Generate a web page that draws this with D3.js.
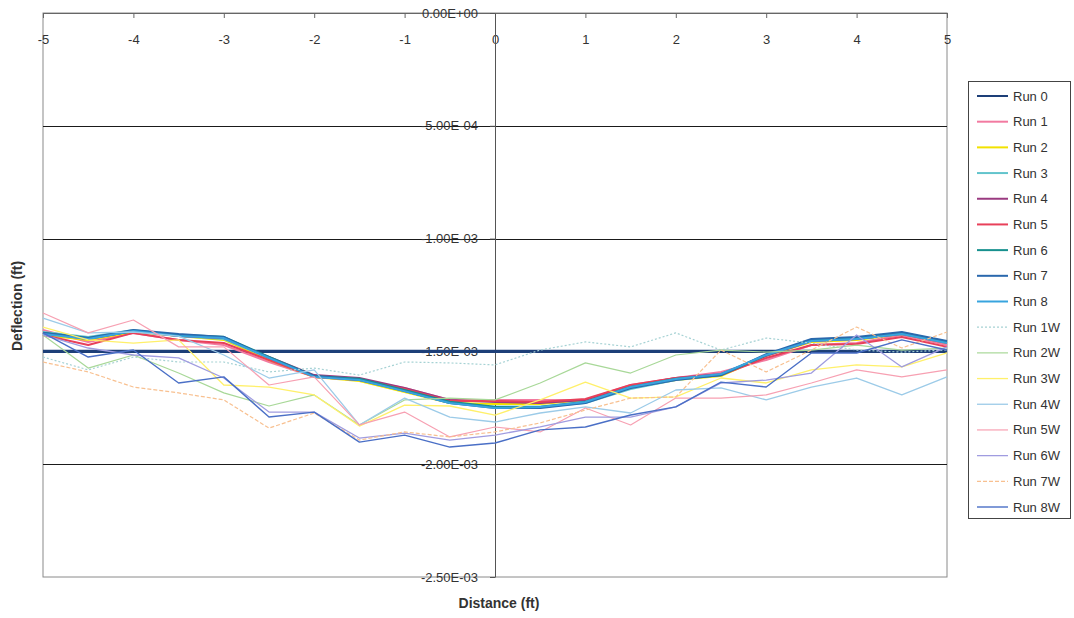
<!DOCTYPE html>
<html>
<head>
<meta charset="utf-8">
<script src="https://cdn.jsdelivr.net/npm/d3@7"></script>
<style>
  html, body { margin: 0; padding: 0; background: #ffffff; }
  svg { display: block; font-family: "Liberation Sans", Arial, sans-serif; }
</style>
</head>
<body>
<svg id="chart" width="1074" height="618"></svg>
<script>
// Distance stations along the beam (ft)
const distance = [-5, -4.5, -4, -3.5, -3, -2.5, -2, -1.5, -1, -0.5, 0, 0.5, 1, 1.5, 2, 2.5, 3, 3.5, 4, 4.5, 5];

// Deflection readings (ft) per run
const run0 = [-1.5e-3, -1.5e-3, -1.5e-3, -1.5e-3, -1.5e-3, -1.5e-3, -1.5e-3, -1.5e-3, -1.5e-3, -1.5e-3, -1.5e-3, -1.5e-3, -1.5e-3, -1.5e-3, -1.5e-3, -1.5e-3, -1.5e-3, -1.5e-3, -1.5e-3, -1.5e-3, -1.5e-3];
const run1 = [-1.405e-3, -1.458e-3, -1.418e-3, -1.449e-3, -1.472e-3, -1.547e-3, -1.613e-3, -1.627e-3, -1.662e-3, -1.715e-3, -1.715e-3, -1.715e-3, -1.715e-3, -1.649e-3, -1.618e-3, -1.591e-3, -1.538e-3, -1.472e-3, -1.463e-3, -1.427e-3, -1.472e-3];
const run2 = [-1.427e-3, -1.449e-3, -1.414e-3, -1.432e-3, -1.449e-3, -1.538e-3, -1.613e-3, -1.631e-3, -1.680e-3, -1.729e-3, -1.733e-3, -1.733e-3, -1.715e-3, -1.662e-3, -1.627e-3, -1.609e-3, -1.520e-3, -1.458e-3, -1.449e-3, -1.423e-3, -1.463e-3];
const run3 = [-1.414e-3, -1.436e-3, -1.405e-3, -1.432e-3, -1.445e-3, -1.529e-3, -1.609e-3, -1.622e-3, -1.676e-3, -1.729e-3, -1.746e-3, -1.746e-3, -1.729e-3, -1.667e-3, -1.627e-3, -1.605e-3, -1.520e-3, -1.454e-3, -1.445e-3, -1.423e-3, -1.458e-3];
const run4 = [-1.418e-3, -1.445e-3, -1.410e-3, -1.432e-3, -1.441e-3, -1.525e-3, -1.605e-3, -1.618e-3, -1.662e-3, -1.715e-3, -1.724e-3, -1.729e-3, -1.715e-3, -1.653e-3, -1.618e-3, -1.600e-3, -1.520e-3, -1.454e-3, -1.445e-3, -1.423e-3, -1.463e-3];
const run5 = [-1.427e-3, -1.472e-3, -1.418e-3, -1.449e-3, -1.463e-3, -1.538e-3, -1.613e-3, -1.627e-3, -1.667e-3, -1.720e-3, -1.720e-3, -1.724e-3, -1.711e-3, -1.649e-3, -1.618e-3, -1.605e-3, -1.529e-3, -1.472e-3, -1.467e-3, -1.436e-3, -1.480e-3];
const run6 = [-1.418e-3, -1.441e-3, -1.410e-3, -1.427e-3, -1.436e-3, -1.525e-3, -1.609e-3, -1.622e-3, -1.671e-3, -1.724e-3, -1.746e-3, -1.746e-3, -1.724e-3, -1.658e-3, -1.622e-3, -1.605e-3, -1.516e-3, -1.449e-3, -1.441e-3, -1.418e-3, -1.458e-3];
const run7 = [-1.418e-3, -1.441e-3, -1.405e-3, -1.423e-3, -1.436e-3, -1.529e-3, -1.609e-3, -1.627e-3, -1.676e-3, -1.729e-3, -1.751e-3, -1.751e-3, -1.729e-3, -1.662e-3, -1.627e-3, -1.605e-3, -1.512e-3, -1.445e-3, -1.436e-3, -1.414e-3, -1.454e-3];
const run8 = [-1.423e-3, -1.445e-3, -1.410e-3, -1.432e-3, -1.441e-3, -1.529e-3, -1.613e-3, -1.627e-3, -1.676e-3, -1.729e-3, -1.751e-3, -1.746e-3, -1.724e-3, -1.658e-3, -1.622e-3, -1.600e-3, -1.516e-3, -1.454e-3, -1.445e-3, -1.423e-3, -1.463e-3];
const run1W = [-1.525e-3, -1.582e-3, -1.525e-3, -1.547e-3, -1.547e-3, -1.591e-3, -1.574e-3, -1.605e-3, -1.547e-3, -1.551e-3, -1.560e-3, -1.494e-3, -1.458e-3, -1.480e-3, -1.418e-3, -1.494e-3, -1.441e-3, -1.463e-3, -1.494e-3, -1.503e-3, -1.494e-3];
const run2W = [-1.427e-3, -1.574e-3, -1.516e-3, -1.596e-3, -1.684e-3, -1.742e-3, -1.693e-3, -1.826e-3, -1.715e-3, -1.707e-3, -1.715e-3, -1.640e-3, -1.551e-3, -1.596e-3, -1.516e-3, -1.494e-3, -1.503e-3, -1.494e-3, -1.472e-3, -1.494e-3, -1.485e-3];
const run3W = [-1.392e-3, -1.449e-3, -1.463e-3, -1.449e-3, -1.649e-3, -1.658e-3, -1.693e-3, -1.831e-3, -1.738e-3, -1.742e-3, -1.782e-3, -1.715e-3, -1.636e-3, -1.707e-3, -1.702e-3, -1.618e-3, -1.640e-3, -1.582e-3, -1.560e-3, -1.569e-3, -1.507e-3];
const run4W = [-1.352e-3, -1.418e-3, -1.414e-3, -1.432e-3, -1.516e-3, -1.618e-3, -1.582e-3, -1.826e-3, -1.707e-3, -1.791e-3, -1.813e-3, -1.773e-3, -1.746e-3, -1.773e-3, -1.671e-3, -1.662e-3, -1.715e-3, -1.658e-3, -1.618e-3, -1.693e-3, -1.613e-3];
const run5W = [-1.330e-3, -1.418e-3, -1.361e-3, -1.480e-3, -1.480e-3, -1.649e-3, -1.613e-3, -1.826e-3, -1.769e-3, -1.879e-3, -1.835e-3, -1.857e-3, -1.751e-3, -1.826e-3, -1.707e-3, -1.707e-3, -1.693e-3, -1.640e-3, -1.582e-3, -1.613e-3, -1.582e-3];
const run6W = [-1.427e-3, -1.485e-3, -1.516e-3, -1.529e-3, -1.618e-3, -1.769e-3, -1.769e-3, -1.884e-3, -1.862e-3, -1.893e-3, -1.871e-3, -1.835e-3, -1.791e-3, -1.791e-3, -1.746e-3, -1.640e-3, -1.627e-3, -1.596e-3, -1.427e-3, -1.569e-3, -1.480e-3];
const run7W = [-1.547e-3, -1.591e-3, -1.658e-3, -1.684e-3, -1.715e-3, -1.840e-3, -1.773e-3, -1.893e-3, -1.857e-3, -1.879e-3, -1.857e-3, -1.817e-3, -1.760e-3, -1.707e-3, -1.702e-3, -1.494e-3, -1.591e-3, -1.494e-3, -1.392e-3, -1.485e-3, -1.414e-3];
const run8W = [-1.418e-3, -1.525e-3, -1.494e-3, -1.640e-3, -1.613e-3, -1.791e-3, -1.769e-3, -1.902e-3, -1.871e-3, -1.924e-3, -1.906e-3, -1.848e-3, -1.835e-3, -1.782e-3, -1.746e-3, -1.636e-3, -1.658e-3, -1.507e-3, -1.507e-3, -1.449e-3, -1.494e-3];

const seriesNames = ["Run 0", "Run 1", "Run 2", "Run 3", "Run 4", "Run 5", "Run 6", "Run 7", "Run 8",
                     "Run 1W", "Run 2W", "Run 3W", "Run 4W", "Run 5W", "Run 6W", "Run 7W", "Run 8W"];
const seriesValues = [run0, run1, run2, run3, run4, run5, run6, run7, run8,
                      run1W, run2W, run3W, run4W, run5W, run6W, run7W, run8W];

// Axis ticks
const xTicks = [-5, -4, -3, -2, -1, 0, 1, 2, 3, 4, 5];
const xTickLabels = ["-5", "-4", "-3", "-2", "-1", "0", "1", "2", "3", "4", "5"];
const yTicks = [0, -5e-4, -1e-3, -1.5e-3, -2e-3, -2.5e-3];
const yTickLabels = ["0.00E+00", "-5.00E-04", "-1.00E-03", "-1.50E-03", "-2.00E-03", "-2.50E-03"];
const gridValues = [-5e-4, -1e-3, -1.5e-3, -2e-3];

// Line styling per series
const styles = [
  { color: "#1d3f78", width: 3.2, dash: null },
  { color: "#f27aa0", width: 2, dash: null },
  { color: "#f2e200", width: 2, dash: null },
  { color: "#62c4cc", width: 2, dash: null },
  { color: "#9a3a80", width: 2, dash: null },
  { color: "#e8405a", width: 2, dash: null },
  { color: "#17908e", width: 2.2, dash: null },
  { color: "#2a68ad", width: 2, dash: null },
  { color: "#38a4de", width: 2, dash: null },
  { color: "#a6d2d4", width: 1.2, dash: "2,2" },
  { color: "#a8d898", width: 1.2, dash: null },
  { color: "#fff06a", width: 1.3, dash: null },
  { color: "#9ccbe8", width: 1.3, dash: null },
  { color: "#f7a0b2", width: 1.2, dash: null },
  { color: "#a09ce0", width: 1.3, dash: null },
  { color: "#f8c090", width: 1.2, dash: "4,2" },
  { color: "#4a6fc6", width: 1.4, dash: null }
];

const svg = d3.select("#chart");
const plot = { left: 43, right: 947, top: 13, bottom: 577 };

const x = d3.scaleLinear().domain([-5, 5]).range([plot.left, plot.right]);
const y = d3.scaleLinear().domain([-2.5e-3, 0]).range([plot.bottom, plot.top]);

// Plot frame
svg.append("rect")
  .attr("x", plot.left).attr("y", plot.top)
  .attr("width", plot.right - plot.left).attr("height", plot.bottom - plot.top)
  .attr("fill", "#ffffff").attr("stroke", "#8a8a8a").attr("stroke-width", 1);

// Horizontal gridlines
svg.append("g").selectAll("line").data(gridValues).join("line")
  .attr("x1", plot.left).attr("x2", plot.right)
  .attr("y1", d => Math.round(y(d)) + 0.5).attr("y2", d => Math.round(y(d)) + 0.5)
  .attr("stroke", "#1a1a1a").attr("stroke-width", 1);

// X axis along the zero line
const xAxis = svg.append("g")
  .attr("transform", `translate(0,${y(0)})`)
  .call(d3.axisBottom(x).tickValues(xTicks).tickFormat((d, i) => xTickLabels[i])
    .tickSize(5).tickSizeOuter(0).tickPadding(17));
xAxis.select(".domain").attr("stroke", "#666");
xAxis.selectAll(".tick line").attr("stroke", "#666");
xAxis.selectAll("text").attr("fill", "#333").attr("font-size", 13)
  .attr("font-family", "'Liberation Sans', Arial, sans-serif");

// Y axis through x = 0
const yAxis = svg.append("g")
  .attr("transform", `translate(${x(0)},0)`)
  .call(d3.axisLeft(y).tickValues(yTicks).tickFormat((d, i) => yTickLabels[i])
    .tickSize(5).tickSizeOuter(0).tickPadding(12));
yAxis.select(".domain").attr("stroke", "#555");
yAxis.selectAll(".tick line").attr("stroke", "#555");
yAxis.selectAll("text").attr("fill", "#333").attr("font-size", 13)
  .attr("font-family", "'Liberation Sans', Arial, sans-serif");

// Series lines
const line = d3.line().x((d, i) => x(distance[i])).y(d => y(d));
const lines = svg.append("g");
seriesValues.forEach((vals, k) => {
  lines.append("path")
    .datum(vals)
    .attr("d", line)
    .attr("fill", "none")
    .attr("stroke", styles[k].color)
    .attr("stroke-width", styles[k].width)
    .attr("stroke-linejoin", "round")
    .attr("stroke-dasharray", styles[k].dash);
});

// Axis titles
svg.append("text")
  .attr("x", 499).attr("y", 608)
  .attr("text-anchor", "middle")
  .attr("font-size", 14).attr("font-weight", "bold").attr("fill", "#333")
  .text("Distance (ft)");

svg.append("text")
  .attr("transform", "translate(22,306) rotate(-90)")
  .attr("text-anchor", "middle")
  .attr("font-size", 14).attr("font-weight", "bold").attr("fill", "#333")
  .text("Deflection (ft)");

// Legend
const legend = svg.append("g");
legend.append("rect")
  .attr("x", 968.5).attr("y", 81.5).attr("width", 102).attr("height", 437)
  .attr("fill", "#ffffff").attr("stroke", "#444").attr("stroke-width", 1);

const legendRow = d3.scaleLinear().domain([0, seriesNames.length - 1]).range([96, 507]);
seriesNames.forEach((name, k) => {
  const yy = legendRow(k);
  legend.append("line")
    .attr("x1", 977).attr("x2", 1008).attr("y1", yy).attr("y2", yy)
    .attr("stroke", styles[k].color)
    .attr("stroke-width", Math.min(styles[k].width, 2))
    .attr("stroke-dasharray", styles[k].dash);
  legend.append("text")
    .attr("x", 1013).attr("y", yy).attr("dy", "0.35em")
    .attr("font-size", 13).attr("fill", "#333")
    .text(name);
});
</script>
</body>
</html>
